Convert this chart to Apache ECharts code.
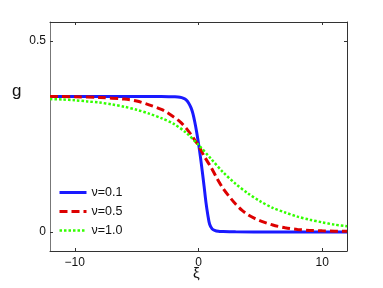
<!DOCTYPE html>
<html>
<head>
<meta charset="utf-8">
<script src="https://cdn.jsdelivr.net/npm/echarts@6/dist/echarts.min.js"></script>
<style>html,body{margin:0;padding:0;background:#fff}#c{width:383px;height:288px}</style>
</head>
<body>
<div id="c"></div>
<script>
const seriesNames = ['ν=0.1', 'ν=0.5', 'ν=1.0'];
const xTicks = [-10, 0, 10];
const yTicks = [0, 0.5];

const nu01X = [-12, -6, -3, -2, -1.5, -1.2, -1.0, -0.8, -0.6, -0.45, -0.3, -0.15, 0, 0.15, 0.3, 0.45, 0.6, 0.75, 0.9, 1.1, 1.3, 1.6, 2.0, 2.5, 3, 6, 12];
const nu01G = [0.355, 0.355, 0.355, 0.354, 0.353, 0.350, 0.346, 0.338, 0.325, 0.310, 0.288, 0.262, 0.232, 0.198, 0.160, 0.120, 0.078, 0.045, 0.020, 0.008, 0.004, 0.0015, 0.0008, 0.0004, 0.0002, 0, 0];

const nu05X = [-12, -10, -8, -6, -5, -4, -3, -2.5, -2, -1.5, -1, -0.5, 0, 0.5, 1, 1.5, 2, 2.5, 3, 3.5, 4, 4.5, 5, 6, 7, 8, 9, 10, 11, 12];
const nu05G = [0.355, 0.354, 0.352, 0.348, 0.343, 0.333, 0.321, 0.312, 0.301, 0.289, 0.272, 0.250, 0.226, 0.196, 0.170, 0.140, 0.113, 0.092, 0.073, 0.057, 0.045, 0.036, 0.029, 0.018, 0.011, 0.0065, 0.004, 0.0028, 0.002, 0.0015];

const nu10X = [-12, -11, -10, -9, -8, -7, -6, -5, -4, -3, -2, -1, 0, 1, 2, 3, 4, 5, 6, 7, 8, 9, 10, 11, 12];
const nu10G = [0.348, 0.347, 0.345, 0.342, 0.339, 0.334, 0.328, 0.320, 0.310, 0.298, 0.283, 0.260, 0.228, 0.192, 0.156, 0.126, 0.101, 0.080, 0.063, 0.051, 0.040, 0.032, 0.025, 0.019, 0.015];

const zip = (xs, ys) => xs.map((x, i) => [x, ys[i]]);
const fmt = v => String(v).replace('-', '\u2212');
const font = 'Liberation Sans, Arial, sans-serif';
const axisColor = '#333';
const colors = ['#1a1aff', '#dd0000', '#33ff00'];
const lineStyles = [
  {color: colors[0], width: 3, type: 'solid'},
  {color: colors[1], width: 3, type: [8, 4]},
  {color: colors[2], width: 2.5, type: [2.5, 2]}
];

const chart = echarts.init(document.getElementById('c'), null, {renderer: 'canvas'});
chart.setOption({
  animation: false,
  backgroundColor: '#fff',
  grid: {left: 50, right: 36, top: 22, bottom: 37, containLabel: false},
  xAxis: [{
    type: 'value', min: -12, max: 12, position: 'bottom',
    axisLine: {show: true, onZero: false, lineStyle: {color: axisColor, width: 1}},
    axisTick: {show: true, inside: true, length: 3, customValues: xTicks, lineStyle: {color: axisColor}},
    axisLabel: {customValues: xTicks, formatter: fmt, color: '#111', fontSize: 12, fontFamily: font, margin: 6},
    splitLine: {show: false}
  }, {
    type: 'value', min: -12, max: 12, position: 'top',
    axisLine: {show: true, onZero: false, lineStyle: {color: axisColor, width: 1}},
    axisTick: {show: true, inside: true, length: 3, customValues: xTicks, lineStyle: {color: axisColor}},
    axisLabel: {show: false},
    splitLine: {show: false}
  }],
  yAxis: [{
    type: 'value', min: -0.05, max: 0.55, position: 'left',
    axisLine: {show: true, onZero: false, lineStyle: {color: '#777', width: 1}},
    axisTick: {show: true, inside: true, length: 3, customValues: yTicks, lineStyle: {color: axisColor}},
    axisLabel: {customValues: yTicks, formatter: fmt, color: '#111', fontSize: 12, fontFamily: font, margin: 4},
    splitLine: {show: false}
  }, {
    type: 'value', min: -0.05, max: 0.55, position: 'right',
    axisLine: {show: true, onZero: false, lineStyle: {color: axisColor, width: 1}},
    axisTick: {show: true, inside: true, length: 3, customValues: yTicks, lineStyle: {color: axisColor}},
    axisLabel: {show: false},
    splitLine: {show: false}
  }],
  legend: {
    orient: 'vertical', left: 58, top: 186, padding: 0,
    itemWidth: 27, itemHeight: 12, itemGap: 6,
    itemStyle: {opacity: 0},
    textStyle: {fontSize: 12.5, fontFamily: font, color: '#111'},
    data: seriesNames.map((n, i) => ({name: n, lineStyle: lineStyles[i]}))
  },
  graphic: [
    {type: 'text', left: 12, top: 83, style: {text: 'g', fontSize: 17, fontFamily: font, fill: '#111'}},
    {type: 'text', left: 193, top: 266, style: {text: 'ξ', fontSize: 15, fontFamily: font, fill: '#111'}}
  ],
  series: [
    {name: seriesNames[0], type: 'line', smooth: 0.3, symbol: 'none', data: zip(nu01X, nu01G),
     lineStyle: lineStyles[0], itemStyle: {color: colors[0]}, z: 3},
    {name: seriesNames[1], type: 'line', smooth: 0.3, symbol: 'none', data: zip(nu05X, nu05G),
     lineStyle: lineStyles[1], itemStyle: {color: colors[1]}, z: 4},
    {name: seriesNames[2], type: 'line', smooth: 0.3, symbol: 'none', data: zip(nu10X, nu10G),
     lineStyle: lineStyles[2], itemStyle: {color: colors[2]}, z: 5}
  ]
});
</script>
</body>
</html>
